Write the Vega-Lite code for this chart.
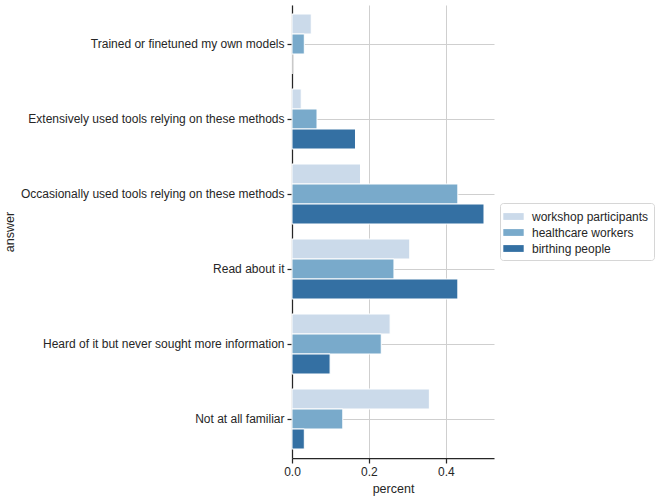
{
  "$schema": "https://vega.github.io/schema/vega-lite/v6.json",
  "autosize": {"type": "none"},
  "padding": {"left": 292, "top": 5, "right": 171, "bottom": 41},
  "width": 202,
  "height": 453,
  "background": "white",
  "config": {
    "font": "Liberation Sans",
    "view": {"stroke": null},
    "axis": {
      "labelFontSize": 12,
      "titleFontSize": 12.5,
      "labelColor": "#262626",
      "titleColor": "#262626",
      "titleFontWeight": "normal",
      "domainColor": "#262626",
      "domainWidth": 1.25,
      "tickColor": "#262626",
      "tickWidth": 1.25,
      "tickSize": 5,
      "gridColor": "#cfcfcf",
      "gridWidth": 1,
      "labelLimit": 400
    }
  },
  "data": {
    "values": [
      {"answer": "Trained or finetuned my own models", "group": "workshop participants", "percent": 0.050},
      {"answer": "Trained or finetuned my own models", "group": "healthcare workers", "percent": 0.032},
      {"answer": "Trained or finetuned my own models", "group": "birthing people", "percent": 0.0},
      {"answer": "Extensively used tools relying on these methods", "group": "workshop participants", "percent": 0.024},
      {"answer": "Extensively used tools relying on these methods", "group": "healthcare workers", "percent": 0.065},
      {"answer": "Extensively used tools relying on these methods", "group": "birthing people", "percent": 0.165},
      {"answer": "Occasionally used tools relying on these methods", "group": "workshop participants", "percent": 0.178},
      {"answer": "Occasionally used tools relying on these methods", "group": "healthcare workers", "percent": 0.431},
      {"answer": "Occasionally used tools relying on these methods", "group": "birthing people", "percent": 0.499},
      {"answer": "Read about it", "group": "workshop participants", "percent": 0.306},
      {"answer": "Read about it", "group": "healthcare workers", "percent": 0.265},
      {"answer": "Read about it", "group": "birthing people", "percent": 0.431},
      {"answer": "Heard of it but never sought more information", "group": "workshop participants", "percent": 0.255},
      {"answer": "Heard of it but never sought more information", "group": "healthcare workers", "percent": 0.232},
      {"answer": "Heard of it but never sought more information", "group": "birthing people", "percent": 0.099},
      {"answer": "Not at all familiar", "group": "workshop participants", "percent": 0.357},
      {"answer": "Not at all familiar", "group": "healthcare workers", "percent": 0.132},
      {"answer": "Not at all familiar", "group": "birthing people", "percent": 0.032}
    ]
  },
  "mark": {"type": "bar", "stroke": "white", "strokeWidth": 1},
  "encoding": {
    "y": {
      "field": "answer",
      "type": "nominal",
      "sort": null,
      "scale": {"paddingInner": 0, "paddingOuter": 0.02},
      "axis": {
        "title": "answer",
        "grid": true,
        "bandPosition": 0.5,
        "domain": true,
        "labelPadding": 3,
        "titleX": -276,
        "titleY": 226.5,
        "titleAngle": -90,
        "titleAlign": "center",
        "titleBaseline": "bottom"
      }
    },
    "yOffset": {
      "field": "group",
      "type": "nominal",
      "sort": ["workshop participants", "healthcare workers", "birthing people"],
      "scale": {"paddingInner": 0, "paddingOuter": 0.375}
    },
    "x": {
      "field": "percent",
      "type": "quantitative",
      "scale": {"domain": [0, 0.525], "nice": false, "zero": true},
      "axis": {
        "title": "percent",
        "values": [0, 0.2, 0.4],
        "format": ".1f",
        "grid": true,
        "labelFlush": false,
        "labelPadding": 3,
        "titlePadding": 5
      }
    },
    "color": {
      "field": "group",
      "type": "nominal",
      "sort": ["workshop participants", "healthcare workers", "birthing people"],
      "scale": {
        "domain": ["workshop participants", "healthcare workers", "birthing people"],
        "range": ["#cbdaea", "#79aacb", "#3470a3"]
      },
      "legend": {
        "title": null,
        "orient": "none",
        "legendX": 208,
        "legendY": 198,
        "labelFontSize": 12,
        "labelColor": "#262626",
        "symbolType": "M-1.2,-0.4H1.2V0.4H-1.2Z",
        "symbolSize": 289,
        "symbolStrokeWidth": 0,
        "symbolOpacity": 1,
        "labelOffset": 10,
        "rowPadding": 1,
        "padding": 5,
        "strokeColor": "#d6d6d6",
        "cornerRadius": 3,
        "fillColor": "white"
      }
    }
  }
}
